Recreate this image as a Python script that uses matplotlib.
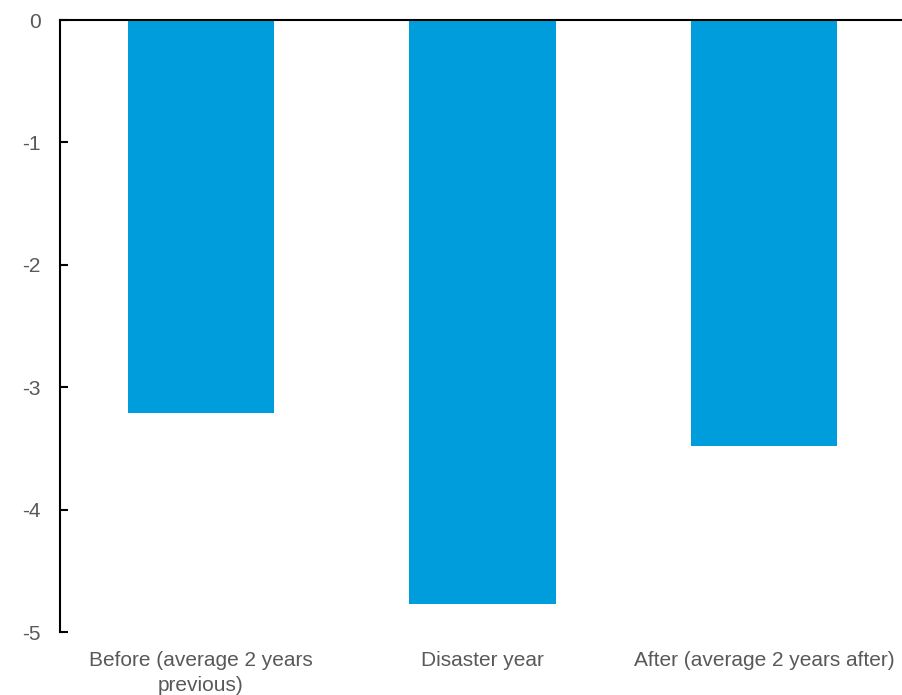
import matplotlib.pyplot as plt

plt.rcParams["font.family"] = ["Liberation Sans", "DejaVu Sans"]

# Change around disaster years
categories = ["Before (average 2 years\nprevious)", "Disaster year", "After (average 2 years after)"]
values = [-3.21, -4.77, -3.48]
y_ticks = [0, -1, -2, -3, -4, -5]

bar_color = "#009DDC"
text_color = "#595959"

fig = plt.figure(figsize=(9.02, 6.95), dpi=100)
ax = fig.add_axes([60 / 902, 1 - 632 / 695, 1 - 60 / 902, (632 - 20) / 695])

x = range(len(categories))
ax.bar(x, values, width=0.52, color=bar_color, zorder=2)

ax.set_xlim(-0.5, 2.49)
ax.set_ylim(-5, 0)
ax.set_yticks(y_ticks)
ax.set_yticklabels([str(t) for t in y_ticks])
ax.set_xticks(list(x))
ax.set_xticklabels(categories, linespacing=1.35)

for side in ["right", "bottom"]:
    ax.spines[side].set_visible(False)
ax.spines["top"].set_linewidth(1.5)
ax.spines["left"].set_linewidth(1.5)
ax.spines["top"].set_zorder(3)

ax.tick_params(axis="y", direction="in", length=6, width=1.5, pad=14,
               labelsize=15, labelcolor=text_color)
ax.tick_params(axis="x", length=0, pad=14, labelsize=15, labelcolor=text_color)

fig.savefig("out.png", dpi=100)
